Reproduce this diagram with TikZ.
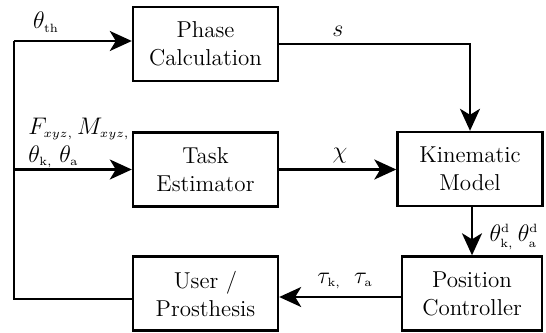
\documentclass[tikz,border=0pt]{standalone}
\usetikzlibrary{arrows.meta,calc}
\tikzset{
	block/.style={draw,line width=1.2pt,minimum width=72.5pt,minimum height=37pt,align=center,inner sep=0pt,font=\fontsize{11.5}{14}\selectfont},
	sig/.style={line width=1.2pt,-{Stealth[length=11pt,width=10pt,inset=3pt]}},
	wire/.style={line width=1.2pt},
	lbl/.style={inner sep=0pt,font=\fontsize{11.5}{13}\selectfont}
}
\newcommand{\tinysub}[1]{{\scriptscriptstyle #1}}

\begin{document}
\begin{tikzpicture}[x=0.5pt,y=-0.5pt]
			%%%%% START %%%%%
			\def\xl{205.5}
			\def\xr{470}
			\def\xbus{14}
			\def\ytop{41}
			\def\ymid{169.5}
			\def\ybot{299}
			
			\useasboundingbox (0,0) rectangle (546,332);
			
			\node[block] (phase) at (\xl,44) {Phase\\Calculation};
			\node[block] (task) at (\xl,\ymid) {Task\\Estimator};
			\node[block] (user) at (\xl,293.5) {User /\\Prosthesis};
			\node[block] (kin) at (\xr,169) {Kinematic\\Model};
			\node[block,minimum width=70pt] (pos) at (472,293.5) {Position\\Controller};
			
			\coordinate (bustop) at (\xbus,\ytop);
			\coordinate (busmid) at (\xbus,\ymid);
			\coordinate (busbot) at (\xbus,\ybot);
			
			\draw[wire] (user.west |- busbot) -- (busbot) -- (bustop);
			\draw[sig] (bustop) -- (bustop -| phase.west);
			\draw[sig] (busmid) -- (task.west);
			\draw[sig] (phase.east) -| (kin.north);
			\draw[sig] (task.east) -- (task.east -| kin.west);
			\draw[sig] (kin.south -| pos.north) -- (pos.north);
			\draw[sig] ($(pos.west)+(0,3.5)$) -- ($(user.east)+(0,3.5)$);
			
			\node[lbl] (lth) at (46,22) {$\theta_{\tinysub{\mathrm{th}}}$};
			\node[lbl,anchor=west,align=left] (lfm) at (28,143) {$F_{\tinysub{xyz,}}\,M_{\tinysub{xyz,}}$\\[1pt]$\theta_{\tinysub{\mathrm{k},}}\;\theta_{\tinysub{\mathrm{a}}}$};
			\node[lbl] (ls) at (338,31) {$s$};
			\node[lbl] (lchi) at (340,156) {$\chi$};
			\node[lbl] (ld) at (514,237) {$\theta^{\tinysub{\mathrm{d}}}_{\tinysub{\mathrm{k},}}\,\theta^{\tinysub{\mathrm{d}}}_{\tinysub{\mathrm{a}}}$};
			\node[lbl] (ltau) at (345,281) {$\tau_{\tinysub{\mathrm{k},}}\;\;\tau_{\tinysub{\mathrm{a}}}$};
			%%%%% END %%%%%
\end{tikzpicture}
\end{document}
